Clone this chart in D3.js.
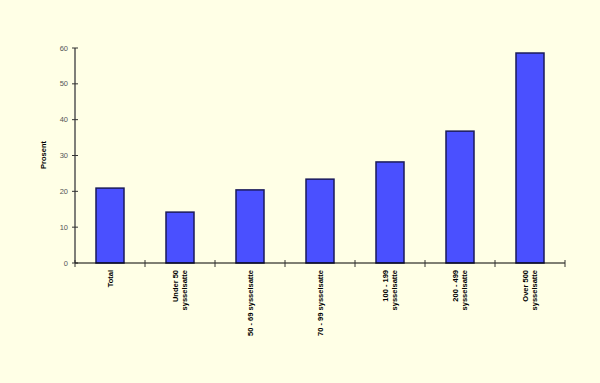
<!DOCTYPE html>
<html><head><meta charset="utf-8">
<script src="https://cdn.jsdelivr.net/npm/d3@7"></script>
<style>body{margin:0;background:#ffffe6;}svg{display:block;}</style>
</head><body>
<script>
const categories = [["Total"],["Under 50","sysselsatte"],["50 - 69 sysselsatte"],["70 - 99 sysselsatte"],["100 - 199","sysselsatte"],["200 - 499","sysselsatte"],["Over 500","sysselsatte"]];
const values = [20.9, 14.2, 20.4, 23.4, 28.2, 36.8, 58.6];
const yTicks = [0,10,20,30,40,50,60];

const W=600,H=383;
const svg=d3.select("body").append("svg").attr("width",W).attr("height",H);
svg.append("rect").attr("width",W).attr("height",H).attr("fill","#ffffe6");
const x=d3.scaleBand().domain(d3.range(values.length)).range([75,565]).paddingInner(0.6).paddingOuter(0.3);
const y=d3.scaleLinear().domain([0,60]).range([263,48]);

svg.selectAll(".bar").data(values).join("rect")
 .attr("x",(d,i)=>x(i)).attr("y",d=>y(d)).attr("width",x.bandwidth()).attr("height",d=>y(0)-y(d))
 .attr("fill","#4a50ff").attr("stroke","#1a1a5a").attr("stroke-width",1.5);

// y axis
svg.append("line").attr("x1",75).attr("x2",75).attr("y1",y(60)).attr("y2",y(0)).attr("stroke","#555").attr("stroke-width",1.5);
yTicks.forEach(t=>{
  svg.append("line").attr("x1",72).attr("x2",78).attr("y1",y(t)).attr("y2",y(t)).attr("stroke","#333").attr("stroke-width",1);
  svg.append("text").attr("x",68).attr("y",y(t)+2.5).attr("text-anchor","end").attr("font-family","Liberation Sans, Arial").attr("font-size",7.5).attr("fill","#555").text(t);
});
// x axis
svg.append("line").attr("x1",75).attr("x2",565).attr("y1",263).attr("y2",263).attr("stroke","#000").attr("stroke-width",1);
const step=x.step();
d3.range(values.length+1).forEach(i=>{
  const xx=75+i*70;
  svg.append("line").attr("x1",xx).attr("x2",xx).attr("y1",260).attr("y2",267).attr("stroke","#333").attr("stroke-width",1);
});
categories.forEach((lines,i)=>{
  const cx=x(i)+x.bandwidth()/2;
  const n=lines.length;
  lines.forEach((ln,j)=>{
    const off=(j-(n-1)/2)*9;
    svg.append("text").attr("transform",`translate(${cx+off+2.5},270) rotate(-90)`)
     .attr("text-anchor","end").attr("font-family","Liberation Sans, Arial").attr("font-size",7.5).attr("font-weight","bold").attr("fill","#000").text(ln);
  });
});
svg.append("text").attr("transform","translate(46,155) rotate(-90)").attr("text-anchor","middle")
 .attr("font-family","Liberation Sans, Arial").attr("font-size",7.5).attr("font-weight","bold").text("Prosent");
</script>
</body></html>
